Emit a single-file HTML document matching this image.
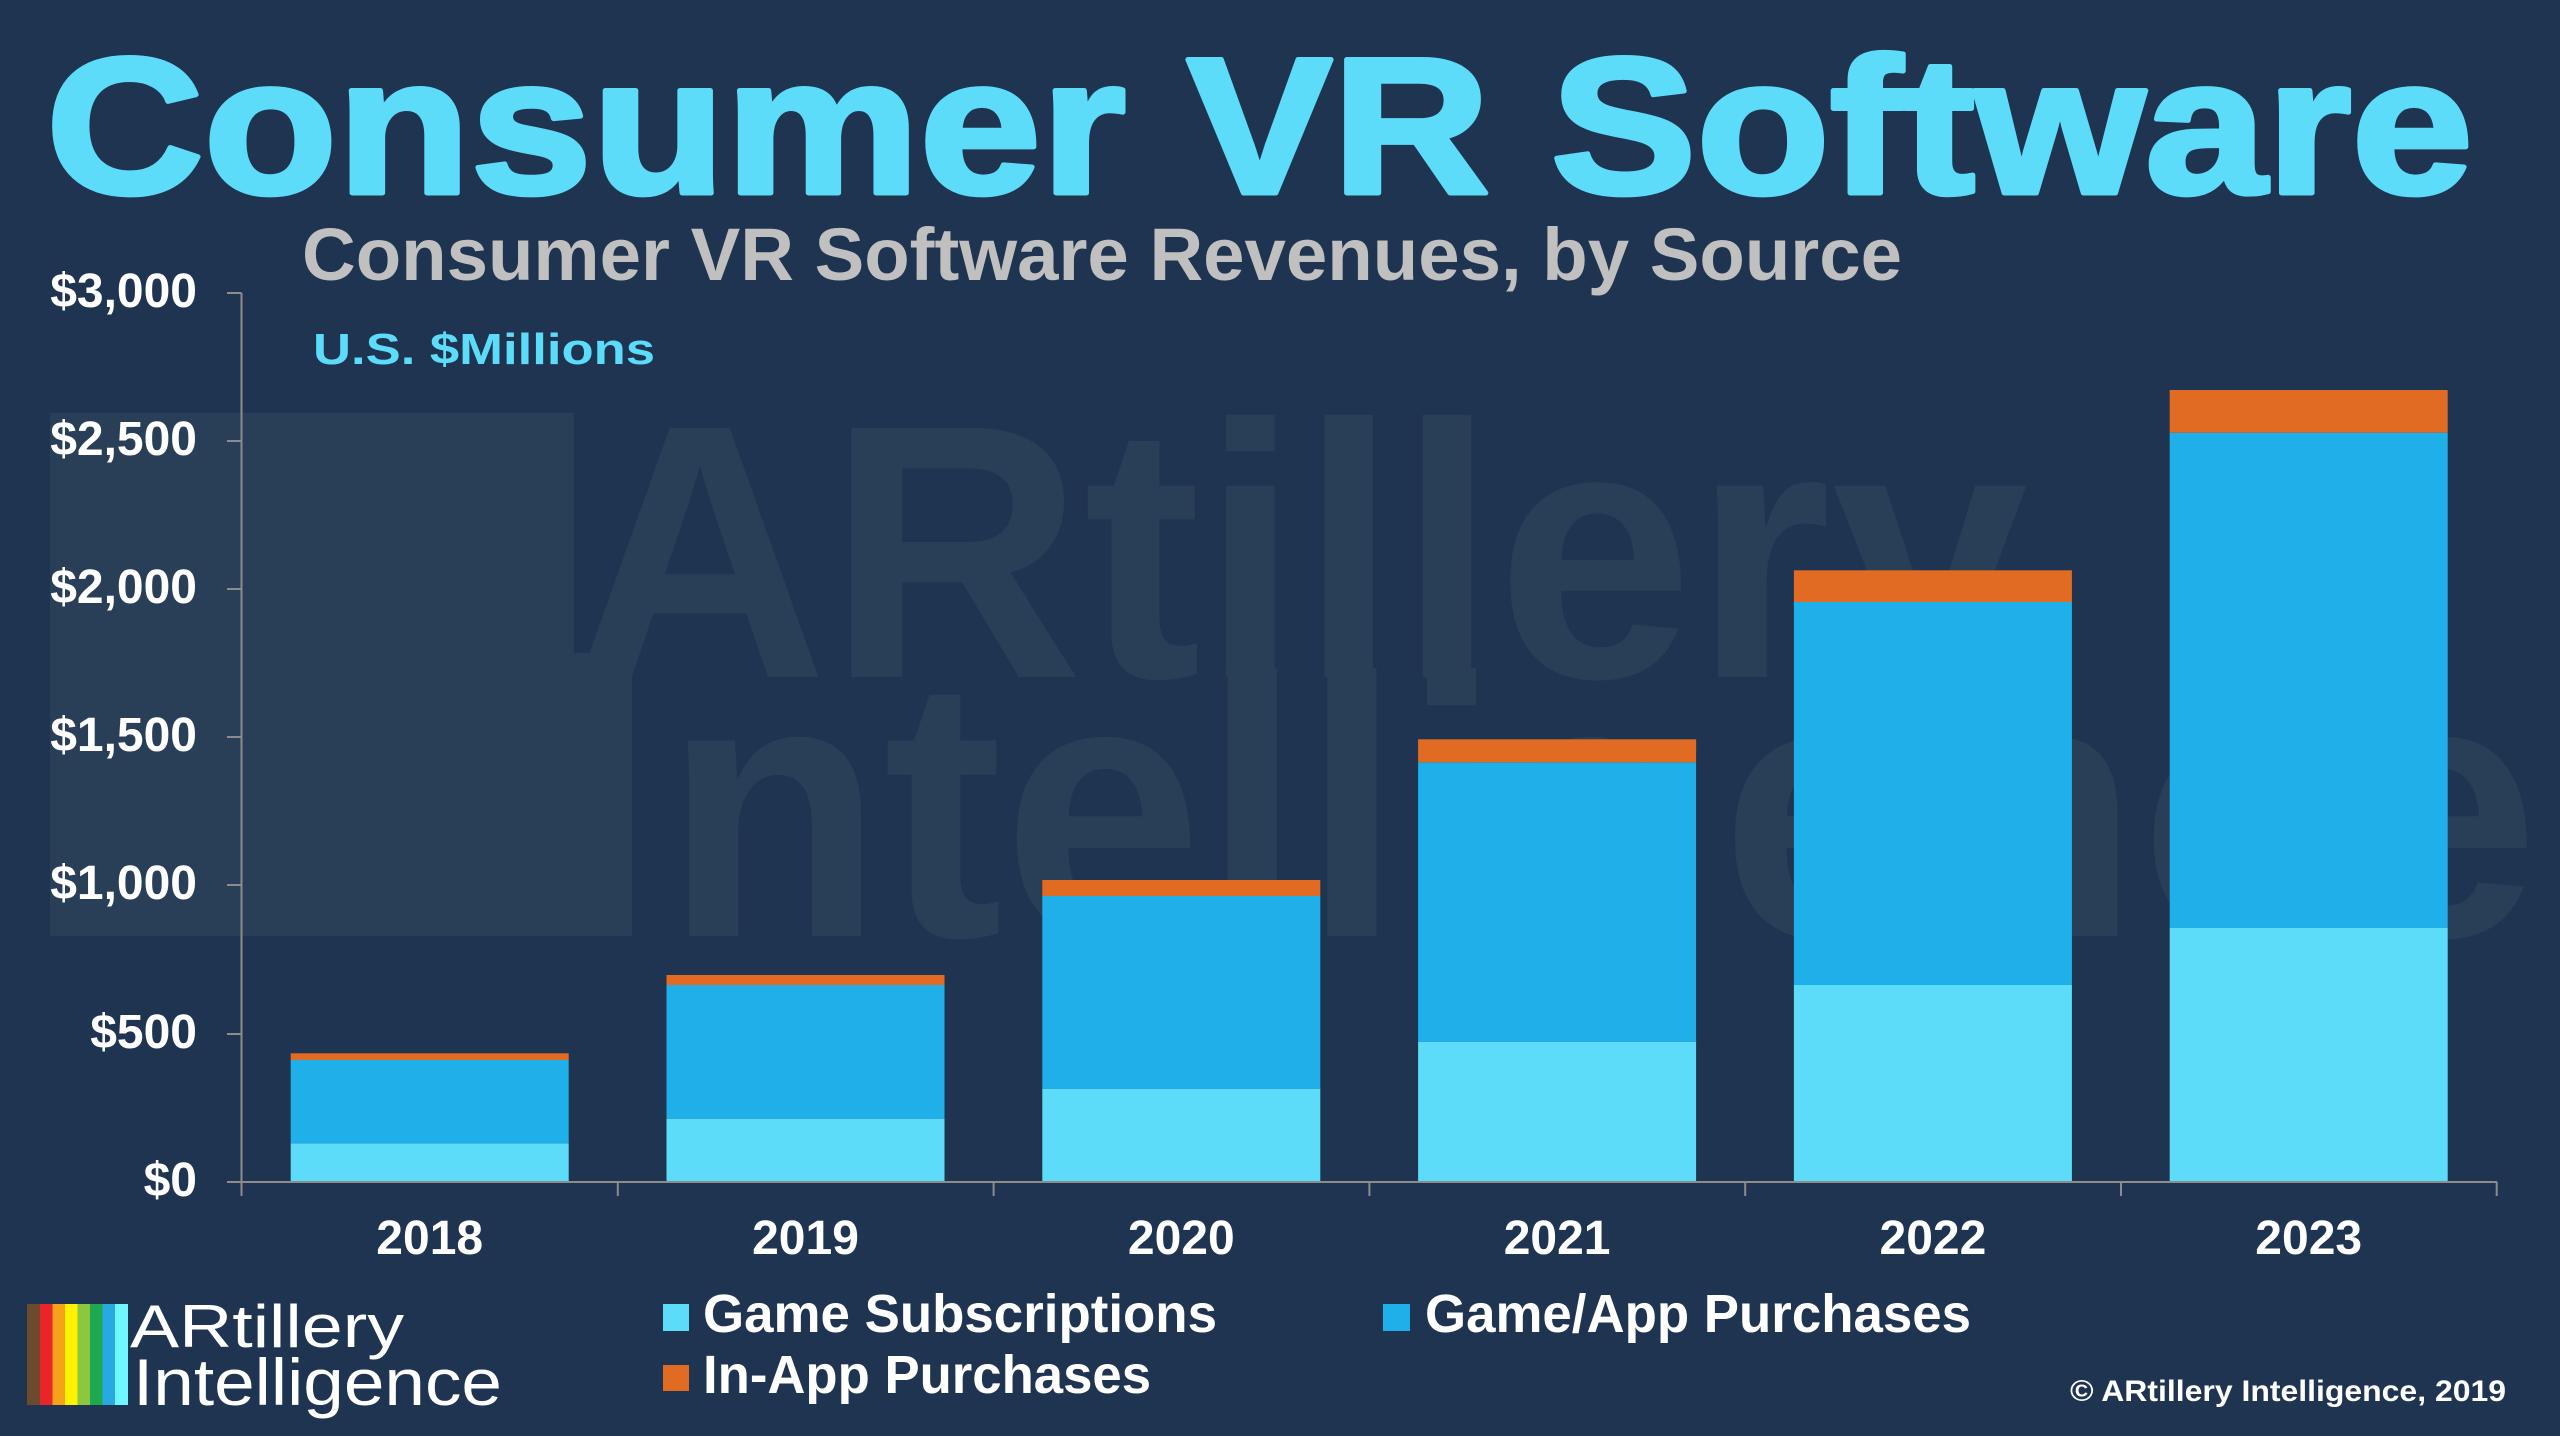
<!DOCTYPE html>
<html>
<head>
<meta charset="utf-8">
<style>
html,body{margin:0;padding:0;background:#1f3450;}
svg{display:block;}
</style>
</head>
<body>
<svg width="2560" height="1436" viewBox="0 0 2560 1436" xmlns="http://www.w3.org/2000/svg" font-family="'Liberation Sans', Arial, sans-serif">
  <rect x="0" y="0" width="2560" height="1436" fill="#1f3450"/>

  <!-- watermark -->
  <g fill="#293e57">
    <rect x="50" y="413" width="524" height="523"/>
    <rect x="574" y="653" width="58" height="283"/>
    <text x="572" y="677" font-size="362" font-weight="bold" textLength="1456" lengthAdjust="spacingAndGlyphs">ARtillery</text>
    <text x="664" y="936" font-size="370" font-weight="bold" textLength="1875" lengthAdjust="spacingAndGlyphs">ntelligence</text>
  </g>

  <!-- title -->
  <text x="46" y="193" font-size="194" font-weight="bold" fill="#5cdcf9" stroke="#5cdcf9" stroke-width="5" stroke-linejoin="round" textLength="2427" lengthAdjust="spacingAndGlyphs">Consumer VR Software</text>
  <text x="302" y="280" font-size="74" font-weight="bold" fill="#c0c0c0" textLength="1600" lengthAdjust="spacingAndGlyphs">Consumer VR Software Revenues, by Source</text>
  <text x="313" y="364" font-size="44" font-weight="bold" fill="#5cdcf9" textLength="342" lengthAdjust="spacingAndGlyphs">U.S. $Millions</text>

  <!-- y axis labels -->
  <g font-size="48" font-weight="bold" fill="#ffffff" text-anchor="end">
    <text x="197" y="307">$3,000</text>
    <text x="197" y="455">$2,500</text>
    <text x="197" y="603">$2,000</text>
    <text x="197" y="751">$1,500</text>
    <text x="197" y="899">$1,000</text>
    <text x="197" y="1048">$500</text>
    <text x="197" y="1196">$0</text>
  </g>

  <!-- bars -->
  <g>
    <!-- 2018 -->
    <rect x="290.7" y="1143.3" width="278" height="38.7" fill="#5cdcf9"/>
    <rect x="290.7" y="1060" width="278" height="83.3" fill="#1fb0ea"/>
    <rect x="290.7" y="1053.3" width="278" height="6.7" fill="#e16b22"/>
    <!-- 2019 -->
    <rect x="666.5" y="1118.7" width="278" height="63.3" fill="#5cdcf9"/>
    <rect x="666.5" y="985" width="278" height="133.7" fill="#1fb0ea"/>
    <rect x="666.5" y="975" width="278" height="10" fill="#e16b22"/>
    <!-- 2020 -->
    <rect x="1042.3" y="1088.7" width="278" height="93.3" fill="#5cdcf9"/>
    <rect x="1042.3" y="896" width="278" height="192.7" fill="#1fb0ea"/>
    <rect x="1042.3" y="880" width="278" height="16" fill="#e16b22"/>
    <!-- 2021 -->
    <rect x="1418.1" y="1041.7" width="278" height="140.3" fill="#5cdcf9"/>
    <rect x="1418.1" y="762.3" width="278" height="279.4" fill="#1fb0ea"/>
    <rect x="1418.1" y="739.3" width="278" height="23" fill="#e16b22"/>
    <!-- 2022 -->
    <rect x="1793.9" y="985" width="278" height="197" fill="#5cdcf9"/>
    <rect x="1793.9" y="602" width="278" height="383" fill="#1fb0ea"/>
    <rect x="1793.9" y="570.3" width="278" height="31.7" fill="#e16b22"/>
    <!-- 2023 -->
    <rect x="2169.7" y="928" width="278" height="254" fill="#5cdcf9"/>
    <rect x="2169.7" y="432.7" width="278" height="495.3" fill="#1fb0ea"/>
    <rect x="2169.7" y="390" width="278" height="42.7" fill="#e16b22"/>
  </g>

  <!-- axes -->
  <g stroke="#8c8c8c" stroke-width="2" fill="none">
    <line x1="241.5" y1="293" x2="241.5" y2="1196"/>
    <line x1="227" y1="1182" x2="2497" y2="1182"/>
    <line x1="227" y1="293" x2="241.5" y2="293"/>
    <line x1="227" y1="441" x2="241.5" y2="441"/>
    <line x1="227" y1="589" x2="241.5" y2="589"/>
    <line x1="227" y1="737" x2="241.5" y2="737"/>
    <line x1="227" y1="885" x2="241.5" y2="885"/>
    <line x1="227" y1="1034" x2="241.5" y2="1034"/>
    <line x1="617.8" y1="1182" x2="617.8" y2="1196"/>
    <line x1="993.6" y1="1182" x2="993.6" y2="1196"/>
    <line x1="1369.4" y1="1182" x2="1369.4" y2="1196"/>
    <line x1="1745.2" y1="1182" x2="1745.2" y2="1196"/>
    <line x1="2121" y1="1182" x2="2121" y2="1196"/>
    <line x1="2496.7" y1="1182" x2="2496.7" y2="1196"/>
  </g>

  <!-- x labels -->
  <g font-size="48" font-weight="bold" fill="#ffffff" text-anchor="middle">
    <text x="429.7" y="1254">2018</text>
    <text x="805.5" y="1254">2019</text>
    <text x="1181.3" y="1254">2020</text>
    <text x="1557.1" y="1254">2021</text>
    <text x="1932.9" y="1254">2022</text>
    <text x="2308.7" y="1254">2023</text>
  </g>

  <!-- logo -->
  <g>
    <rect x="27" y="1304" width="13" height="101" fill="#6b4a2e"/>
    <rect x="40" y="1304" width="12.5" height="101" fill="#e8262a"/>
    <rect x="52.5" y="1304" width="12.5" height="101" fill="#f7a21b"/>
    <rect x="65" y="1304" width="12.5" height="101" fill="#fff200"/>
    <rect x="77.5" y="1304" width="12.5" height="101" fill="#8dc63f"/>
    <rect x="90" y="1304" width="12.5" height="101" fill="#1ea84f"/>
    <rect x="102.5" y="1304" width="12.5" height="101" fill="#27aae1"/>
    <rect x="115" y="1304" width="13" height="101" fill="#6ff6ff"/>
    <text x="130" y="1347" font-size="60" fill="#ffffff" textLength="274" lengthAdjust="spacingAndGlyphs">ARtillery</text>
    <text x="133" y="1405" font-size="66" fill="#ffffff" textLength="369" lengthAdjust="spacingAndGlyphs">Intelligence</text>
  </g>

  <!-- legend -->
  <g font-size="54" font-weight="bold" fill="#ffffff">
    <rect x="663" y="1304" width="26" height="27" fill="#5cdcf9"/>
    <text x="703" y="1332" textLength="514" lengthAdjust="spacingAndGlyphs">Game Subscriptions</text>
    <rect x="1383" y="1304" width="27" height="27" fill="#1fb0ea"/>
    <text x="1425" y="1332" textLength="546" lengthAdjust="spacingAndGlyphs">Game/App Purchases</text>
    <rect x="663" y="1365" width="26" height="26" fill="#e16b22"/>
    <text x="703" y="1393" textLength="448" lengthAdjust="spacingAndGlyphs">In-App Purchases</text>
  </g>

  <text x="2070" y="1401" font-size="30" font-weight="bold" fill="#ffffff" textLength="436" lengthAdjust="spacingAndGlyphs">© ARtillery Intelligence, 2019</text>
</svg>
</body>
</html>
